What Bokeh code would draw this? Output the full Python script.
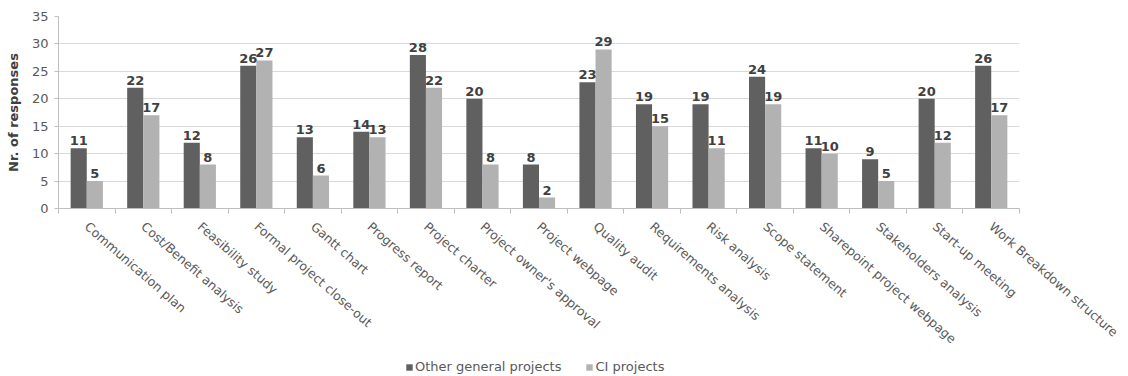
from bokeh.plotting import figure
from bokeh.layouts import column
from bokeh.models import (Range1d, FixedTicker, ColumnDataSource, Legend, LegendItem)
from bokeh.transform import dodge
from bokeh.core.properties import value
from bokeh.embed import file_html
from bokeh.resources import INLINE

categories = ["Communication plan", "Cost/Benefit analysis", "Feasibility study",
              "Formal project close-out", "Gantt chart", "Progress report", "Project charter",
              "Project owner's approval", "Project webpage", "Quality audit",
              "Requirements analysis", "Risk analysis", "Scope statement",
              "Sharepoint project webpage", "Stakeholders analysis", "Start-up meeting",
              "Work Breakdown structure"]
other_general = [11, 22, 12, 26, 13, 14, 28, 20, 8, 23, 19, 19, 24, 11, 9, 20, 26]
ci_projects = [5, 17, 8, 27, 6, 13, 22, 8, 2, 29, 15, 11, 19, 10, 5, 12, 17]
series_names = ["Other general projects", "CI projects"]
y_ticks = [0, 5, 10, 15, 20, 25, 30, 35]

DARK = "#606060"
LIGHT = "#b2b2b2"
FONT = "DejaVu Sans"
TXT = "#595959"

n = len(categories)
centers = [i + 0.5 for i in range(n)]
bounds = list(range(n + 1))

src = ColumnDataSource(dict(
    x=centers,
    a=other_general, b=ci_projects,
    a_s=[str(v) for v in other_general], b_s=[str(v) for v in ci_projects],
))

p = figure(width=1128, height=358, x_range=Range1d(0, n), y_range=Range1d(0, 35),
           output_backend="svg", toolbar_location=None,
           min_border_left=58, min_border_right=109, min_border_top=16, min_border_bottom=150)
p.outline_line_color = None
p.background_fill_color = "white"
p.border_fill_color = "white"

w = 0.285
p.vbar(x=dodge("x", -w / 2), top="a", width=w, source=src, fill_color=DARK, line_color=None)
p.vbar(x=dodge("x", w / 2), top="b", width=w, source=src, fill_color=LIGHT, line_color=None)

for col, off in (("a_s", -w / 2), ("b_s", w / 2)):
    p.text(x=dodge("x", off), y=col[0], text=col, source=src,
           text_align="center", text_baseline="bottom", y_offset=-3,
           text_font=value(FONT), text_font_style="bold", text_font_size="13px",
           text_color="#404040")

# y axis
yax = p.yaxis[0]
yax.ticker = FixedTicker(ticks=y_ticks)
yax.axis_label = "Nr. of responses"
yax.axis_label_text_font = FONT
yax.axis_label_text_font_style = "bold"
yax.axis_label_text_font_size = "13px"
yax.axis_label_text_color = "#404040"
yax.axis_label_standoff = 8
yax.major_label_text_font = FONT
yax.major_label_text_font_size = "13px"
yax.major_label_text_color = TXT
yax.axis_line_color = "#bfbfbf"
yax.major_tick_line_color = "#bfbfbf"
yax.major_tick_out = 4
yax.major_tick_in = 0
yax.minor_tick_line_color = None
yax.major_label_standoff = 6

p.ygrid.grid_line_color = "#d9d9d9"
p.ygrid.ticker = FixedTicker(ticks=y_ticks)
p.xgrid.grid_line_color = None

xax = p.xaxis[0]
xax.ticker = FixedTicker(ticks=centers, minor_ticks=bounds)
xax.major_label_overrides = {c: name for c, name in zip(centers, categories)}
xax.axis_line_color = "#bfbfbf"
xax.major_tick_line_color = None
xax.major_tick_out = 0
xax.major_tick_in = 0
xax.minor_tick_line_color = "#bfbfbf"
xax.minor_tick_out = 5
xax.minor_tick_in = 0
xax.major_label_orientation = -0.72
xax.major_label_standoff = 11
xax.major_label_text_font = FONT
xax.major_label_text_font_size = "12.5px"
xax.major_label_text_color = TXT

# legend strip (proxy renderers lie outside the strip's visible range)
lg = figure(width=1128, height=18, x_range=Range1d(0, 1), y_range=Range1d(0, 1),
            output_backend="svg", toolbar_location=None,
            x_axis_location=None, y_axis_location=None,
            min_border=0, min_border_left=0, min_border_right=0,
            min_border_top=0, min_border_bottom=0)
lg.outline_line_color = None
lg.grid.grid_line_color = None
proxy = ColumnDataSource(dict(x=[5.0], top=[0.0]))
l1 = lg.vbar(x="x", top="top", width=0.1, source=proxy, fill_color=DARK, line_color=None)
l2 = lg.vbar(x="x", top="top", width=0.1, source=proxy, fill_color=LIGHT, line_color=None)
legend = Legend(items=[LegendItem(label=series_names[0], renderers=[l1]),
                       LegendItem(label=series_names[1], renderers=[l2])],
                location=(347, 2), orientation="horizontal",
                glyph_width=8, glyph_height=8, label_height=12, label_standoff=2,
                spacing=24, padding=0, margin=0, border_line_color=None,
                background_fill_alpha=0,
                label_text_font=FONT, label_text_font_size="13px", label_text_color=TXT)
lg.add_layout(legend, "center")

layout = column(p, lg, spacing=0)
open("out.html", "w").write(file_html(layout, INLINE))
